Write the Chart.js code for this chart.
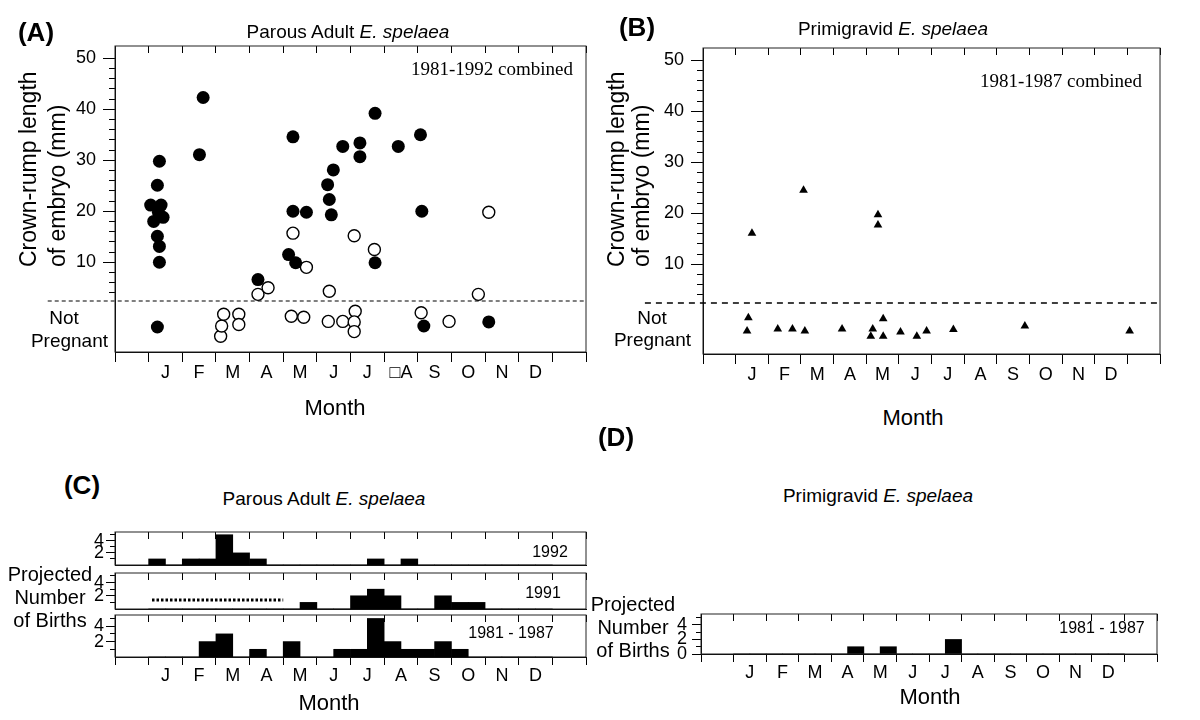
<!DOCTYPE html>
<html>
<head>
<meta charset="utf-8">
<script src="https://cdn.jsdelivr.net/npm/chart.js@4.4.1/dist/chart.umd.min.js"></script>
<style>
  body { margin: 0; background: #fff; }
  #page { position: relative; width: 1200px; height: 720px; overflow: hidden; font-family: "Liberation Sans", Arial, sans-serif; color: #000; }
  canvas { position: absolute; }
  .t { position: absolute; white-space: nowrap; line-height: 1; }
  .c { transform: translate(-50%, -50%); }
  .r { transform: translate(-100%, -50%); }
  .tag { font-weight: bold; font-size: 26px; }
  .title { font-size: 19px; }
  .serif { font-family: "Liberation Serif", "Times New Roman", serif; font-size: 19px; }
  .np { font-size: 19px; }
  .axt { font-size: 22px; }
  .yr { font-size: 16px; }
  .ylab { position: absolute; white-space: nowrap; font-size: 23px; transform-origin: 0 0; transform: rotate(-90deg); text-align: left; }
  .births { font-size: 20px; line-height: 23px; text-align: center; transform: translate(-50%, -50%); }
</style>
</head>
<body>
<div id="page">
  <canvas id="chartA" width="600" height="400" style="left:0;top:0"></canvas>
  <canvas id="chartB" width="610" height="400" style="left:590px;top:0"></canvas>
  <canvas id="chartC1" width="600" height="56" style="left:0;top:520px"></canvas>
  <canvas id="chartC2" width="600" height="60" style="left:0;top:560px"></canvas>
  <canvas id="chartC3" width="600" height="100" style="left:0;top:600px"></canvas>
  <canvas id="chartD" width="610" height="90" style="left:590px;top:600px"></canvas>

  <div class="t c tag" style="left:36px;top:32px">(A)</div>
  <div class="t c title" style="left:348px;top:31px">Parous Adult <i>E. spelaea</i></div>
  <div class="t r serif" style="left:573px;top:68px">1981-1992 combined</div>
  <div class="ylab" style="left:14px;top:267px;line-height:29px">Crown-rump length<br>of embryo (mm)</div>
  <div class="t c np" style="left:64px;top:317px">Not</div>
  <div class="t r np" style="left:108px;top:340px">Pregnant</div>
  <div class="t c axt" style="left:335px;top:408px">Month</div>

  <div class="t c tag" style="left:637px;top:27px">(B)</div>
  <div class="t c title" style="left:893px;top:28px">Primigravid <i>E. spelaea</i></div>
  <div class="t r serif" style="left:1142px;top:80px">1981-1987 combined</div>
  <div class="ylab" style="left:604px;top:267px;line-height:25px">Crown-rump length<br>of embryo (mm)</div>
  <div class="t c np" style="left:652px;top:317px">Not</div>
  <div class="t r np" style="left:691px;top:339px">Pregnant</div>
  <div class="t c axt" style="left:913px;top:418px">Month</div>

  <div class="t c tag" style="left:82px;top:485px">(C)</div>
  <div class="t c title" style="left:324px;top:498px">Parous Adult <i>E. spelaea</i></div>
  <div class="t births" style="left:50px;top:597px">Projected<br>Number<br>of Births</div>
  <div class="t c yr" style="left:550px;top:552px">1992</div>
  <div class="t c yr" style="left:543px;top:593px">1991</div>
  <div class="t c yr" style="left:511px;top:633px">1981 - 1987</div>
  <div class="t c axt" style="left:329px;top:703px">Month</div>

  <div class="t c tag" style="left:616px;top:437px">(D)</div>
  <div class="t c title" style="left:878px;top:495px">Primigravid <i>E. spelaea</i></div>
  <div class="t births" style="left:633px;top:627px">Projected<br>Number<br>of Births</div>
  <div class="t c yr" style="left:1102px;top:628px">1981 - 1987</div>
  <div class="t c axt" style="left:930px;top:697px">Month</div>
</div>

<script>
const ink = '#000';
const fontFamily = '"Liberation Sans", Arial, sans-serif';

// month axis: boundaries on whole numbers, names centred on the halves
const months = ['J', 'F', 'M', 'A', 'M', 'J', 'J', 'A', 'S', 'O', 'N', 'D'];
const monthsPanelA = ['J', 'F', 'M', 'A', 'M', 'J', 'J', '\u25A1A', 'S', 'O', 'N', 'D'];
const monthTicks = [0, 0.5, 1, 1.5, 2, 2.5, 3, 3.5, 4, 4.5, 5, 5.5, 6, 6.5, 7, 7.5, 8, 8.5, 9, 9.5, 10, 10.5, 11, 11.5, 12, 12.5, 13, 13.5, 14];

// embryo length axis (panels A, B)
const embryoTicks = [4, 6, 8, 10, 12, 14, 16, 18, 20, 22, 24, 26, 28, 30, 32, 34, 36, 38, 40, 42, 44, 46, 48, 50];
const embryoLabelled = [10, 20, 30, 40, 50];
const notPregnantCutoff = 2.4;

// panel A: parous adults, [month position, crown-rump length]; negative = not pregnant
const parousFilled = [
  [1.06, 21.2], [1.37, 21.2], [1.15, 18.0], [1.43, 18.8], [1.29, 19.8], [1.26, 25.1], [1.32, 29.8],
  [1.26, 15.1], [1.32, 13.1], [1.32, 10.0], [1.26, -2.7],
  [2.51, 31.1], [2.62, 42.3],
  [4.25, 6.6],
  [5.29, 34.6], [5.29, 20.0], [5.69, 19.8], [5.16, 11.5], [5.37, 9.9],
  [6.32, 25.2], [6.37, 22.3], [6.43, 19.3], [6.49, 28.1], [6.77, 32.7],
  [7.28, 33.4], [7.28, 30.7], [7.73, 39.2], [7.73, 9.9],
  [8.42, 32.7],
  [9.08, 35.0], [9.12, 20.0], [9.18, -2.5],
  [11.11, -1.7]
];
const parousOpen = [
  [3.14, -4.5], [3.17, -2.5], [3.23, -0.2], [3.68, -0.2], [3.68, -2.2],
  [4.25, 3.7], [4.55, 5.0],
  [5.29, 15.7], [5.69, 9.0], [5.24, -0.6], [5.61, -0.8],
  [6.37, 4.3], [6.34, -1.6], [6.77, -1.6],
  [7.11, 15.2], [7.71, 12.5], [7.14, 0.4], [7.11, -1.7], [7.11, -3.6],
  [9.10, 0.1], [9.93, -1.6],
  [10.80, 3.7], [11.11, 19.8]
];

// panel B: primigravid females
const primigravid = [
  [1.50, 16.1], [3.08, 24.5], [5.36, 19.7], [5.36, 17.7],
  [1.39, -0.5], [1.35, -3.1], [2.29, -2.7], [2.74, -2.7], [3.12, -3.1], [4.26, -2.7],
  [5.20, -2.7], [5.14, -4.1], [5.52, -0.7], [5.52, -4.1], [6.05, -3.3], [6.55, -4.1],
  [6.85, -3.1], [7.67, -2.8], [9.86, -2.1], [13.07, -3.1]
];

// panels C, D: projected births per half month (J first half ... D second half)
const halfMonthSlots = [1.25, 1.75, 2.25, 2.75, 3.25, 3.75, 4.25, 4.75, 5.25, 5.75, 6.25, 6.75,
  7.25, 7.75, 8.25, 8.75, 9.25, 9.75, 10.25, 10.75, 11.25, 11.75, 12.25, 12.75];
const births1992 = [1, 0, 1, 1, 5, 2, 1, 0, 0, 0, 0, 0, 0, 1, 0, 1, 0, 0, 0, 0, 0, 0, 0, 0];
const births1991 = [0, 0, 0, 0, 0, 0, 0, 0, 0, 1, 0, 0, 2, 3, 2, 0, 0, 2, 1, 1, 0, 0, 0, 0];
const births1981to87 = [0, 0, 0, 2, 3, 0, 1, 0, 2, 0, 0, 1, 1, 5, 2, 1, 1, 2, 1, 0, 0, 0, 0, 0];
const birthsPrimigravid = [0, 0, 0, 0, 0, 0, 0, 1, 0, 1, 0, 0, 0, 2, 0, 0, 0, 0, 0, 0, 0, 0, 0, 0];
const noRecords1991 = [[1.1, 1.35], [5.0, 1.35]];   // dotted span in 1991
const birthTicksC = [1, 2, 3, 4, 5];
const birthTicksD = [0, 1, 2, 3, 4, 5];
const birthLabelled = [0, 2, 4];

const toPoints = arr => arr.map(([x, y]) => ({ x, y }));

const framePlugin = {
  id: 'frame',
  beforeDatasetsDraw(chart) {
    const { ctx, chartArea: a } = chart;
    ctx.save();
    ctx.strokeStyle = '#222';
    ctx.lineWidth = 1;
    ctx.strokeRect(a.left, a.top, a.right - a.left, a.bottom - a.top);
    ctx.restore();
  }
};

function isBoundary(c) {
  return c.tick && Number.isInteger(c.tick.value);
}

function monthAxis(names, o) {
  return {
    type: 'linear',
    min: 0,
    max: 14,
    offset: false,
    afterBuildTicks: axis => { axis.ticks = monthTicks.map(v => ({ value: v })); },
    afterFit: axis => { axis.height = o.height; },
    grid: {
      offset: false,
      drawOnChartArea: true,
      drawTicks: o.labels,
      tickLength: o.tickLength,
      color: c => isBoundary(c) ? ink : 'rgba(0,0,0,0)',
      tickColor: c => isBoundary(c) ? ink : 'rgba(0,0,0,0)',
      tickBorderDash: [],
      lineWidth: 1
    },
    border: { display: true, color: ink, width: 1, dash: [7, 2000] },
    ticks: {
      display: o.labels,
      autoSkip: false,
      maxRotation: 0,
      padding: o.padding || 0,
      color: ink,
      font: { family: fontFamily, size: 18 },
      callback: v => {
        const i = Math.round(v - 1.5);
        return (v % 1 === 0.5 && i >= 0 && i < 12) ? names[i] : '';
      }
    }
  };
}

function valueAxis(o) {
  return {
    type: 'linear',
    min: o.min,
    max: o.max,
    afterBuildTicks: axis => { axis.ticks = o.ticks.map(v => ({ value: v })); },
    afterFit: axis => { axis.width = o.width; },
    grid: {
      drawOnChartArea: false,
      tickLength: o.tickLength,
      tickColor: ink,
      tickBorderDash: c => o.labelled.includes(c.tick.value) ? [] : [0, o.tickLength - o.minorLength, o.minorLength, 100]
    },
    border: { display: true, color: ink, width: 1 },
    ticks: {
      autoSkip: false,
      padding: o.padding,
      color: ink,
      font: { family: fontFamily, size: o.fontSize, lineHeight: 1 },
      callback: v => o.labelled.includes(v) ? String(v) : ''
    }
  };
}

const baseOptions = pad => ({
  responsive: false,
  animation: false,
  layout: { padding: { top: pad.top, right: pad.right, left: 0, bottom: 0 } },
  plugins: { legend: { display: false }, tooltip: { enabled: false } }
});

function embryoAxis(width) {
  return valueAxis({ min: -7.6, max: 52.4, ticks: embryoTicks, labelled: embryoLabelled, width,
    tickLength: 12, minorLength: 6, padding: 7, fontSize: 18 });
}

// (A) parous adults
new Chart(document.getElementById('chartA'), {
  type: 'scatter',
  data: {
    datasets: [
      { data: toPoints(parousFilled), pointRadius: 6.5, backgroundColor: ink, borderColor: ink, borderWidth: 0 },
      { data: toPoints(parousOpen), pointRadius: 6, backgroundColor: '#fff', borderColor: ink, borderWidth: 1.4 },
      { type: 'line', data: [{ x: -2.0, y: notPregnantCutoff }, { x: 14, y: notPregnantCutoff }],
        borderColor: '#555', borderWidth: 1.3, borderDash: [4, 3], pointRadius: 0, clip: false }
    ]
  },
  options: {
    ...baseOptions({ top: 46, right: 14 }),
    scales: { x: monthAxis(monthsPanelA, { height: 48, tickLength: 10, labels: true }), y: embryoAxis(115) }
  },
  plugins: [framePlugin]
});

// (B) primigravid
new Chart(document.getElementById('chartB'), {
  type: 'scatter',
  data: {
    datasets: [
      { data: toPoints(primigravid), pointStyle: 'triangle', pointRadius: 5, backgroundColor: ink, borderColor: ink, borderWidth: 0 },
      { type: 'line', data: [{ x: -1.78, y: notPregnantCutoff }, { x: 14, y: notPregnantCutoff }],
        borderColor: ink, borderWidth: 1.3, borderDash: [6, 5], pointRadius: 0, clip: false }
    ]
  },
  options: {
    ...baseOptions({ top: 48, right: 40 }),
    scales: { x: monthAxis(months, { height: 46, tickLength: 10, labels: true }), y: embryoAxis(113) }
  },
  plugins: [framePlugin]
});

// (C) and (D) projected births
function birthsChart(id, series, o) {
  const datasets = [{
    type: 'bar',
    data: halfMonthSlots.map((x, i) => ({ x, y: series[i] })),
    backgroundColor: ink,
    borderWidth: 0,
    barPercentage: 1,
    categoryPercentage: 1
  }];
  if (o.dotted) {
    datasets.push({ type: 'line', data: toPoints(o.dotted), borderColor: ink, borderWidth: 3,
      borderDash: [2.5, 2], pointRadius: 0 });
  }
  return new Chart(document.getElementById(id), {
    type: 'bar',
    data: { datasets },
    options: {
      ...baseOptions({ top: o.top, right: o.right }),
      scales: {
        x: monthAxis(months, { height: o.xHeight, tickLength: 8, labels: o.labels }),
        y: valueAxis({ min: 0, max: o.max, ticks: o.ticks, labelled: birthLabelled, width: o.width,
          tickLength: 9, minorLength: 5, padding: o.tickPad, fontSize: 18 })
      }
    },
    plugins: [framePlugin]
  });
}

birthsChart('chartC1', births1992, { top: 12, right: 14, xHeight: 3, labels: false, max: 5.45, ticks: birthTicksC, width: 115, tickPad: 2 });
birthsChart('chartC2', births1991, { top: 13, right: 14, xHeight: 5, labels: false, max: 5.45, ticks: birthTicksC, width: 115, tickPad: 2, dotted: noRecords1991 });
birthsChart('chartC3', births1981to87, { top: 15, right: 14, xHeight: 43, labels: true, max: 5.45, ticks: birthTicksC, width: 115, tickPad: 2 });
birthsChart('chartD', birthsPrimigravid, { top: 10, right: 43, xHeight: 36, labels: true, max: 5.5, ticks: birthTicksD, width: 111, tickPad: 5 });
</script>
</body>
</html>
